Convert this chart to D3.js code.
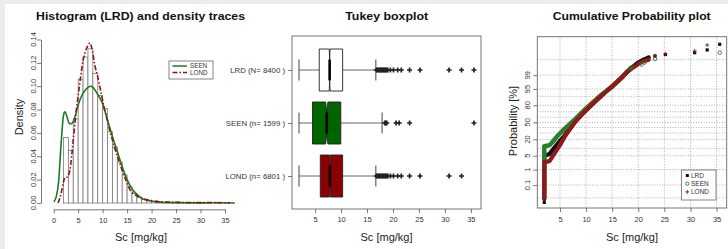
<!DOCTYPE html>
<html>
<head>
<meta charset="utf-8">
<script src="https://cdn.jsdelivr.net/npm/d3@7"></script>
<style>
  body { margin: 0; background: #ececec; }
  svg { display: block; font-family: "Liberation Sans", Arial, sans-serif; }
</style>
</head>
<body>
<svg width="728" height="249"></svg>
<script>
// ---- histogram (LRD), bins of width 1 starting at 2
var histLo = [2,3,4,5,6,7,8,9,10,11,12,13,14,15,16,17,18,19,20,21,22,23,24,25,26,27,28,29,30,31,32,33,34,35];
var histDensity = [0.056,0.045,0.072,0.106,0.125,0.132,0.111,0.092,0.081,0.061,0.048,0.035,0.024,0.014,0.008,0.005,
                   0.003,0.002,0.0012,0.0008,0.0004,0.0003,0.0001,0.0001,0,0,0,0,0.0001,0,0,0.0001,0,0.0001];

// density traces
var seenDensX = [0,0.5,1,1.5,2,2.3,2.7,3.2,3.7,4.2,5,6,7,7.5,8,9,10,11,12,13,14,15,16,17,18,19,20,22,25,30,35,37];
var seenDensY = [0.001,0.005,0.018,0.05,0.075,0.078,0.074,0.068,0.068,0.072,0.084,0.094,0.099,0.1,0.099,0.093,0.085,
                 0.071,0.057,0.044,0.031,0.02,0.012,0.0075,0.004,0.0025,0.0015,0.0007,0.0003,0.0001,0.0002,0];
var londDensX = [0.9,1.5,2,2.3,2.7,3.3,4,4.5,5,5.5,6,6.5,7,7.4,8,8.4,9,9.4,10,10.4,11,11.4,12,12.4,13,13.5,14,14.5,15,15.5,16,17,18,19,20,22,25,30,33,35,36];
var londDensY = [0,0.008,0.018,0.022,0.022,0.028,0.054,0.075,0.092,0.108,0.122,0.13,0.135,0.137,0.128,0.118,0.108,0.1,0.088,0.08,
                 0.07,0.063,0.054,0.048,0.04,0.034,0.028,0.022,0.017,0.012,0.009,0.0062,0.004,0.0028,0.002,0.001,0.0006,0.0003,0.0003,0.0002,0];

// ---- Tukey boxplot
var boxGroups = ["LRD (N= 8400 )", "SEEN (n= 1599 )", "LOND (n= 6801 )"];
var boxN    = [8400, 1599, 6801];
var boxLow  = [1.9, 1.9, 1.9];
var boxQ1   = [5.8, 4.5, 6.0];
var boxMed  = [7.8, 7.25, 7.85];
var boxQ3   = [10.3, 9.95, 10.3];
var boxHigh = [16.7, 17.9, 16.7];
var boxFill = ["#ffffff", "#006400", "#8b0000"];
var lrdOut  = [16.8,17,17.2,17.4,17.6,17.8,18,18.2,18.4,18.6,18.8,19,19.5,20.1,20.9,21.6,23.2,25.2,30.8,33.2,35.6];
var seenOut = [18.4,18.6,18.8,20.6,21.2,23.2,35.6];
var londOut = [16.8,17,17.2,17.4,17.6,17.8,18,18.2,18.4,18.6,18.8,19,19.5,20.1,20.9,21.6,23.2,25.2,30.8,33.2];

// ---- cumulative probability (x, probability %)
var cumLrdX = [2,2,3,4,5,5.8,7,7.8,9,10.3,12,14,16,17,18,19,20,21,22];
var cumLrdP = [0.008,5,6,11,18,25,39,50,63,75,86,94,97.8,98.8,99.4,99.7,99.84,99.9,99.93];
var cumLrdPtX = [2,23.2,25.2,30.8,33.2,35.6];
var cumLrdPtP = [0.004,99.946,99.958,99.97,99.982,99.994];
var cumSeenX = [2,2,3,3.5,4.5,5.5,7.25,8.5,9.95,11.5,13,15,17,17.9];
var cumSeenP = [0.03,12,13,16,25,34,50,62,75,85,91.5,96,98.7,99.4];
var cumSeenPtX = [18.4,18.7,20.6,21.2,23.2,35.6];
var cumSeenPtP = [99.6,99.66,99.78,99.84,99.91,99.97];
var cumLondX = [2,2,3,4,5,6,7,7.85,9,10.3,12,14,16,17,18,19,20,21,22];
var cumLondP = [0.01,2.5,2.8,6.5,13,25,38,50,63,75,86.5,94,97.8,98.8,99.4,99.65,99.8,99.87,99.9];
var cumLondPtX = [23.2,25.2,30.8,33.2];
var cumLondPtP = [99.949,99.963,99.978,99.993];
var probLabels = [0.1,1,5,20,50,80,95,99];
var probGrid = [0.01,0.1,1,5,10,20,30,40,50,60,70,80,90,95,99,99.9];
var xTicks = [5,10,15,20,25,30,35];

var seenCol = "#1f7a1f", londCol = "#8b1414", lineCol = "#555", txtCol = "#333";

var svg = d3.select("svg");
svg.append("rect").attr("x", 5).attr("y", 4).attr("width", 723).attr("height", 245).attr("fill", "#fff");

function title(txt, cx, w) {
  svg.append("text").attr("x", cx).attr("y", 19.5).attr("text-anchor", "middle")
    .attr("font-size", 11.5).attr("font-weight", "bold").attr("fill", "#111")
    .attr("textLength", w).attr("lengthAdjust", "spacingAndGlyphs").text(txt);
}
function xlab(cx) {
  svg.append("text").attr("x", cx).attr("y", 240.5).attr("text-anchor", "middle")
    .attr("font-size", 11).attr("fill", "#222").text("Sc [mg/kg]");
}
function ylab(txt, x, cy) {
  svg.append("text").attr("transform", "translate(" + x + "," + cy + ") rotate(-90)")
    .attr("text-anchor", "middle").attr("font-size", 11).attr("fill", "#222").text(txt);
}
function styleAxis(g) {
  g.selectAll("path,line").attr("stroke", lineCol).attr("stroke-width", 0.8);
  g.selectAll("text").attr("font-size", 7.5).attr("fill", txtCol).attr("font-family", null);
}

// qnorm (Acklam) for the probability scale
function qnorm(p) {
  var a=[-39.69683028665376,220.9460984245205,-275.9285104469687,138.3577518672690,-30.66479806614716,2.506628277459239];
  var b=[-54.47609879822406,161.5858368580409,-155.6989798598866,66.80131188771972,-13.28068155288572];
  var c=[-0.007784894002430293,-0.3223964580411365,-2.400758277161838,-2.549732539343734,4.374664141464968,2.938163982698783];
  var d=[0.007784695709041462,0.3224671290700398,2.445134137142996,3.754408661907416];
  var q, r;
  if (p < 0.02425) {
    q = Math.sqrt(-2*Math.log(p));
    return (((((c[0]*q+c[1])*q+c[2])*q+c[3])*q+c[4])*q+c[5])/((((d[0]*q+d[1])*q+d[2])*q+d[3])*q+1);
  }
  if (p > 1-0.02425) {
    q = Math.sqrt(-2*Math.log(1-p));
    return -(((((c[0]*q+c[1])*q+c[2])*q+c[3])*q+c[4])*q+c[5])/((((d[0]*q+d[1])*q+d[2])*q+d[3])*q+1);
  }
  q = p-0.5; r = q*q;
  return (((((a[0]*r+a[1])*r+a[2])*r+a[3])*r+a[4])*r+a[5])*q/(((((b[0]*r+b[1])*r+b[2])*r+b[3])*r+b[4])*r+1);
}

// ================= panel 1: histogram =================
var hx = d3.scaleLinear().domain([0, 35]).range([53.7, 225]);
var hy = d3.scaleLinear().domain([0, 0.14]).range([203, 39.5]);

title("Histogram (LRD) and density traces", 140.5, 209);

svg.append("g").selectAll("rect").data(histLo).enter().append("rect")
  .attr("x", function(d) { return hx(d); })
  .attr("width", function(d) { return hx(d + 1) - hx(d); })
  .attr("y", function(d, i) { return hy(histDensity[i]); })
  .attr("height", function(d, i) { return hy(0) - hy(histDensity[i]); })
  .attr("fill", "#fff").attr("stroke", "#7a7a7a").attr("stroke-width", 0.8);

var dline = d3.line().x(function(d) { return hx(d[0]); }).y(function(d) { return hy(d[1]); }).curve(d3.curveMonotoneX);
svg.append("path").attr("d", dline(d3.zip(seenDensX, seenDensY)))
  .attr("fill", "none").attr("stroke", seenCol).attr("stroke-width", 1.6);
svg.append("path").attr("d", dline(d3.zip(londDensX, londDensY)))
  .attr("fill", "none").attr("stroke", londCol).attr("stroke-width", 1.6).attr("stroke-dasharray", "5,2,1.5,2");

var hxa = svg.append("g").attr("transform", "translate(0,209.3)")
  .call(d3.axisBottom(hx).tickValues([0,5,10,15,20,25,30,35]).tickSize(4).tickSizeOuter(0).tickPadding(4));
styleAxis(hxa);
var hticks = [0,0.02,0.04,0.06,0.08,0.10,0.12,0.14];
var hya = svg.append("g").attr("transform", "translate(41,0)")
  .call(d3.axisLeft(hy).tickValues(hticks).tickSize(4).tickSizeOuter(0).tickFormat(""));
styleAxis(hya);
svg.append("g").selectAll("text").data(hticks).enter().append("text")
  .attr("transform", function(d) { return "translate(35.8," + hy(d) + ") rotate(-90)"; })
  .attr("text-anchor", "middle").attr("font-size", 7.5).attr("fill", txtCol)
  .text(d3.format(".2f"));
xlab(141);
ylab("Density", 22.5, 117);

// legend
var lg = svg.append("g");
lg.append("rect").attr("x", 169).attr("y", 61).attr("width", 44).attr("height", 18)
  .attr("fill", "#fff").attr("stroke", "#666").attr("stroke-width", 0.8);
[["SEEN", seenCol, null], ["LOND", londCol, "5,2,1.5,2"]].forEach(function(e, i) {
  var y = 66 + i * 6.5;
  lg.append("line").attr("x1", 172.5).attr("x2", 187).attr("y1", y).attr("y2", y)
    .attr("stroke", e[1]).attr("stroke-width", 1.5).attr("stroke-dasharray", e[2]);
  lg.append("text").attr("x", 190).attr("y", y + 2.2).attr("font-size", 6.3).attr("fill", txtCol).text(e[0]);
});

// ================= panel 2: boxplot =================
var bx = d3.scaleLinear().domain([0.55, 36.95]).range([292, 481]);
var by = d3.scalePoint().domain(boxGroups).range([70, 176]);
title("Tukey boxplot", 386.7, 83);

svg.append("rect").attr("x", 292).attr("y", 36).attr("width", 189).attr("height", 173)
  .attr("fill", "none").attr("stroke", "#666").attr("stroke-width", 0.9);

var outs = [lrdOut, seenOut, londOut];
var hw = 21;
boxGroups.forEach(function(g, i) {
  var y = by(g);
  var bg = svg.append("g");
  // whiskers + staples
  bg.append("line").attr("x1", bx(boxLow[i])).attr("x2", bx(boxQ1[i])).attr("y1", y).attr("y2", y).attr("stroke", "#666");
  bg.append("line").attr("x1", bx(boxQ3[i])).attr("x2", bx(boxHigh[i])).attr("y1", y).attr("y2", y).attr("stroke", "#666");
  [boxLow[i], boxHigh[i]].forEach(function(v) {
    bg.append("line").attr("x1", bx(v)).attr("x2", bx(v)).attr("y1", y - hw / 2).attr("y2", y + hw / 2).attr("stroke", "#444");
  });
  // notched box
  var nt = 1.58 * (boxQ3[i] - boxQ1[i]) / Math.sqrt(boxN[i]);
  var pts = [
    [bx(boxQ1[i]), y - hw], [bx(boxMed[i] - nt), y - hw], [bx(boxMed[i]), y - hw / 2], [bx(boxMed[i] + nt), y - hw],
    [bx(boxQ3[i]), y - hw], [bx(boxQ3[i]), y + hw], [bx(boxMed[i] + nt), y + hw], [bx(boxMed[i]), y + hw / 2],
    [bx(boxMed[i] - nt), y + hw], [bx(boxQ1[i]), y + hw]
  ];
  bg.append("path").attr("d", d3.line()(pts) + "Z").attr("fill", boxFill[i]).attr("stroke", "#222").attr("stroke-width", 0.9);
  bg.append("line").attr("x1", bx(boxMed[i])).attr("x2", bx(boxMed[i])).attr("y1", y - hw / 2).attr("y2", y + hw / 2)
    .attr("stroke", "#000").attr("stroke-width", 2.6);
  // outliers
  bg.selectAll("path.o").data(outs[i]).enter().append("path").attr("class", "o")
    .attr("d", d3.symbol().type(d3.symbolCross).size(14))
    .attr("transform", function(v) { return "translate(" + bx(v) + "," + y + ")"; })
    .attr("fill", "#222");
});

var bxa = svg.append("g").attr("transform", "translate(0,209)")
  .call(d3.axisBottom(bx).tickValues(xTicks).tickSize(4).tickPadding(4));
bxa.select(".domain").remove();
styleAxis(bxa);
var bya = svg.append("g").attr("transform", "translate(292,0)")
  .call(d3.axisLeft(by).tickSize(4).tickPadding(3));
bya.select(".domain").remove();
styleAxis(bya);
bya.selectAll("text").attr("font-size", 7.8);
xlab(386.5);

// ================= panel 3: cumulative probability =================
var cx = d3.scaleLinear().domain([0.66, 36.94]).range([537.3, 726.7]);
var cy = d3.scaleLinear().domain([-4.22, 4.22]).range([208, 36.7]);
function py(p) { return cy(qnorm(p / 100)); }
title("Cumulative Probability plot", 631.7, 158);

var grid = svg.append("g").attr("stroke", "#9a9a9a").attr("stroke-width", 0.8).attr("stroke-dasharray", "1,1.6");
grid.selectAll("line.v").data(xTicks).enter().append("line").attr("class", "v")
  .attr("x1", function(d) { return cx(d); }).attr("x2", function(d) { return cx(d); }).attr("y1", 36.7).attr("y2", 208);
grid.selectAll("line.h").data(probGrid).enter().append("line").attr("class", "h")
  .attr("x1", 537.3).attr("x2", 726.7).attr("y1", py).attr("y2", py);

var band = d3.line().x(function(d) { return cx(d[0]); }).y(function(d) { return py(d[1]); });
function cumSeries(xs, ps, col, w) {
  svg.append("path").attr("d", band(d3.zip(xs, ps))).attr("fill", "none").attr("stroke", col)
    .attr("stroke-width", w).attr("stroke-linejoin", "round").attr("stroke-linecap", "round");
}
cumSeries(cumLrdX, cumLrdP, "#111", 4.2);
cumSeries(cumSeenX, cumSeenP, "#2a7d2a", 4.5);
cumSeries(cumLondX, cumLondP, "#8f1a1a", 4.2);

svg.append("g").selectAll("rect").data(cumLrdPtX).enter().append("rect")
  .attr("x", function(d) { return cx(d) - 1.6; }).attr("y", function(d, i) { return py(cumLrdPtP[i]) - 1.6; })
  .attr("width", 3.2).attr("height", 3.2).attr("fill", "#111");
svg.append("g").selectAll("circle").data(cumSeenPtX).enter().append("circle")
  .attr("cx", function(d) { return cx(d); }).attr("cy", function(d, i) { return py(cumSeenPtP[i]); })
  .attr("r", 1.8).attr("fill", "none").attr("stroke", "#2a7d2a").attr("stroke-width", 0.9);
svg.append("g").selectAll("path").data(cumLondPtX).enter().append("path")
  .attr("d", "M-2,0H2M0,-2V2")
  .attr("transform", function(d, i) { return "translate(" + cx(d) + "," + py(cumLondPtP[i]) + ")"; })
  .attr("stroke", "#8f1a1a").attr("stroke-width", 0.9);

svg.append("rect").attr("x", 537.3).attr("y", 36.7).attr("width", 189.4).attr("height", 171.3)
  .attr("fill", "none").attr("stroke", "#666").attr("stroke-width", 0.9);

var cxa = svg.append("g").attr("transform", "translate(0,208)")
  .call(d3.axisBottom(cx).tickValues(xTicks).tickSize(4).tickPadding(5));
cxa.select(".domain").remove();
styleAxis(cxa);
var cya = svg.append("g").attr("transform", "translate(537.3,0)")
  .call(d3.axisLeft(d3.scaleLinear().domain(cy.domain()).range(cy.range()))
    .tickValues(probLabels.map(function(p) { return qnorm(p / 100); })).tickSize(4).tickFormat(""));
cya.select(".domain").remove();
styleAxis(cya);
svg.append("g").selectAll("text").data(probLabels).enter().append("text")
  .attr("transform", function(p) { return "translate(529.5," + py(p) + ") rotate(-90)"; })
  .attr("text-anchor", "middle").attr("font-size", 7.5).attr("fill", txtCol).text(function(p) { return p; });
xlab(632);
ylab("Probability [%]", 517, 121);

// legend
var lg3 = svg.append("g");
lg3.append("rect").attr("x", 681.5).attr("y", 170).attr("width", 34.5).attr("height", 30)
  .attr("fill", "#fff").attr("stroke", "#666").attr("stroke-width", 0.8);
var lgItems = ["LRD", "SEEN", "LOND"];
lgItems.forEach(function(t, i) {
  var y = 175.5 + i * 8.2, x = 687.3;
  if (i === 0) lg3.append("rect").attr("x", x - 1.5).attr("y", y - 1.5).attr("width", 3).attr("height", 3).attr("fill", "#111");
  if (i === 1) lg3.append("circle").attr("cx", x).attr("cy", y).attr("r", 1.7).attr("fill", "none").attr("stroke", "#2a7d2a").attr("stroke-width", 0.9);
  if (i === 2) lg3.append("path").attr("d", "M" + (x - 2) + "," + y + "H" + (x + 2) + "M" + x + "," + (y - 2) + "V" + (y + 2)).attr("stroke", "#8f1a1a").attr("stroke-width", 0.9);
  lg3.append("text").attr("x", 691).attr("y", y + 2.3).attr("font-size", 6.5).attr("fill", txtCol).text(t);
});
</script>
</body>
</html>
